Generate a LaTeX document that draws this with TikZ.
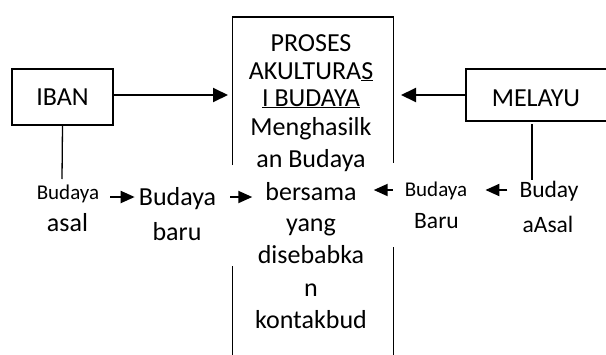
\documentclass[tikz,border=0pt]{standalone}
\usepackage{fontspec}
\setmainfont{Carlito}
\usetikzlibrary{arrows.meta}
\tikzset{
  big/.style={font=\fontsize{26}{31}\selectfont, inner sep=0pt, anchor=base},
  small/.style={font=\fontsize{21}{25}\selectfont, inner sep=0pt, anchor=base},
  mid/.style={font=\fontsize{23.5}{28}\selectfont, inner sep=0pt, anchor=base},
  ln/.style={line width=1.8pt},
  bigarrow/.style={line width=2pt, -{Triangle[length=15pt,width=14pt]}},
  smallarrow/.style={line width=2pt, -{Triangle[length=14pt,width=12pt]}},
}
\begin{document}
\begin{tikzpicture}[x=1pt,y=-1pt]
\useasboundingbox (0,0) rectangle (606,354);
% IBAN box
\node[draw, ln, minimum width=101pt, minimum height=56pt, inner sep=0pt,
      font=\fontsize{26}{31}\selectfont] (iban) at (62.5,97) {IBAN};
% MELAYU box (open to the right)
\draw[ln] (612,69) -- (466,69) -- (466,121) -- (612,121);
\coordinate (mbox) at (466,95);
\node[big] (melayu) at (536,106) {MELAYU};
% central box
\coordinate (ctl) at (232.5,17);
\coordinate (ctr) at (393.5,17);
\draw[ln] (232.5,165) -- (ctl) -- (ctr) -- (393.5,163);
\draw[ln] (232.5,266) -- (232.5,356);
\draw[ln] (393.5,247) -- (393.5,356);
\coordinate (cwest) at (228,95);
\coordinate (ceast) at (401,95);
% central text
\node[big] (c1) at (311,51) {PROSES};
\node[big] (c2) at (311,79) {AKULTURA\underline{S}};
\node[big] (c3) at (311,106) {\underline{I BUDAYA}};
\node[big] (c4) at (311,135) {Menghasilk};
\node[big] (c5) at (311,167) {an Budaya};
\node[big] (c6) at (311,200) {bersama};
\node[big] (c7) at (311,231) {yang};
\node[big] (c8) at (311,263) {disebabka};
\node[big] (c9) at (311,296) {n};
\node[big] (c10) at (311,328) {kontakbud};
% left side
\node[small] (la1) at (68,199) {Budaya};
\node[big] (la2) at (67.5,231) {asal};
\node[big] (lb1) at (177.5,205) {Budaya};
\node[big] (lb2) at (177,240) {baru};
% right side
\node[small] (ra1) at (436,196) {Budaya};
\node[mid] (ra2) at (436.5,228) {Baru};
\node[mid] (rb1) at (549,197) {Buday};
\node[mid] (rb2) at (548,232) {aAsal};
% connectors
\draw[bigarrow] ([yshift=2pt]iban.east) -- (cwest);
\draw[bigarrow] (mbox) -- (ceast);
\draw[line width=1.3pt] (iban.south) -- (62,179);
\draw[line width=1.3pt] (532,124) -- (532,180);
\draw[smallarrow] ([xshift=11pt,yshift=2pt]la1.base east) -- ([xshift=-4pt,yshift=2pt]la1.base east -| lb1.west);
\draw[smallarrow] ([xshift=14pt,yshift=8pt]lb1.base east) -- ([xshift=-13pt,yshift=8pt]lb1.base east -| c6.west);
\draw[smallarrow] ([xshift=-12pt,yshift=6pt]ra1.base west) -- ([xshift=17pt,yshift=6pt]ra1.base west -| c6.east);
\draw[smallarrow] ([xshift=-12pt,yshift=7pt]rb1.base west) -- ([xshift=18pt,yshift=7pt]rb1.base west -| ra1.east);
\end{tikzpicture}
\end{document}
